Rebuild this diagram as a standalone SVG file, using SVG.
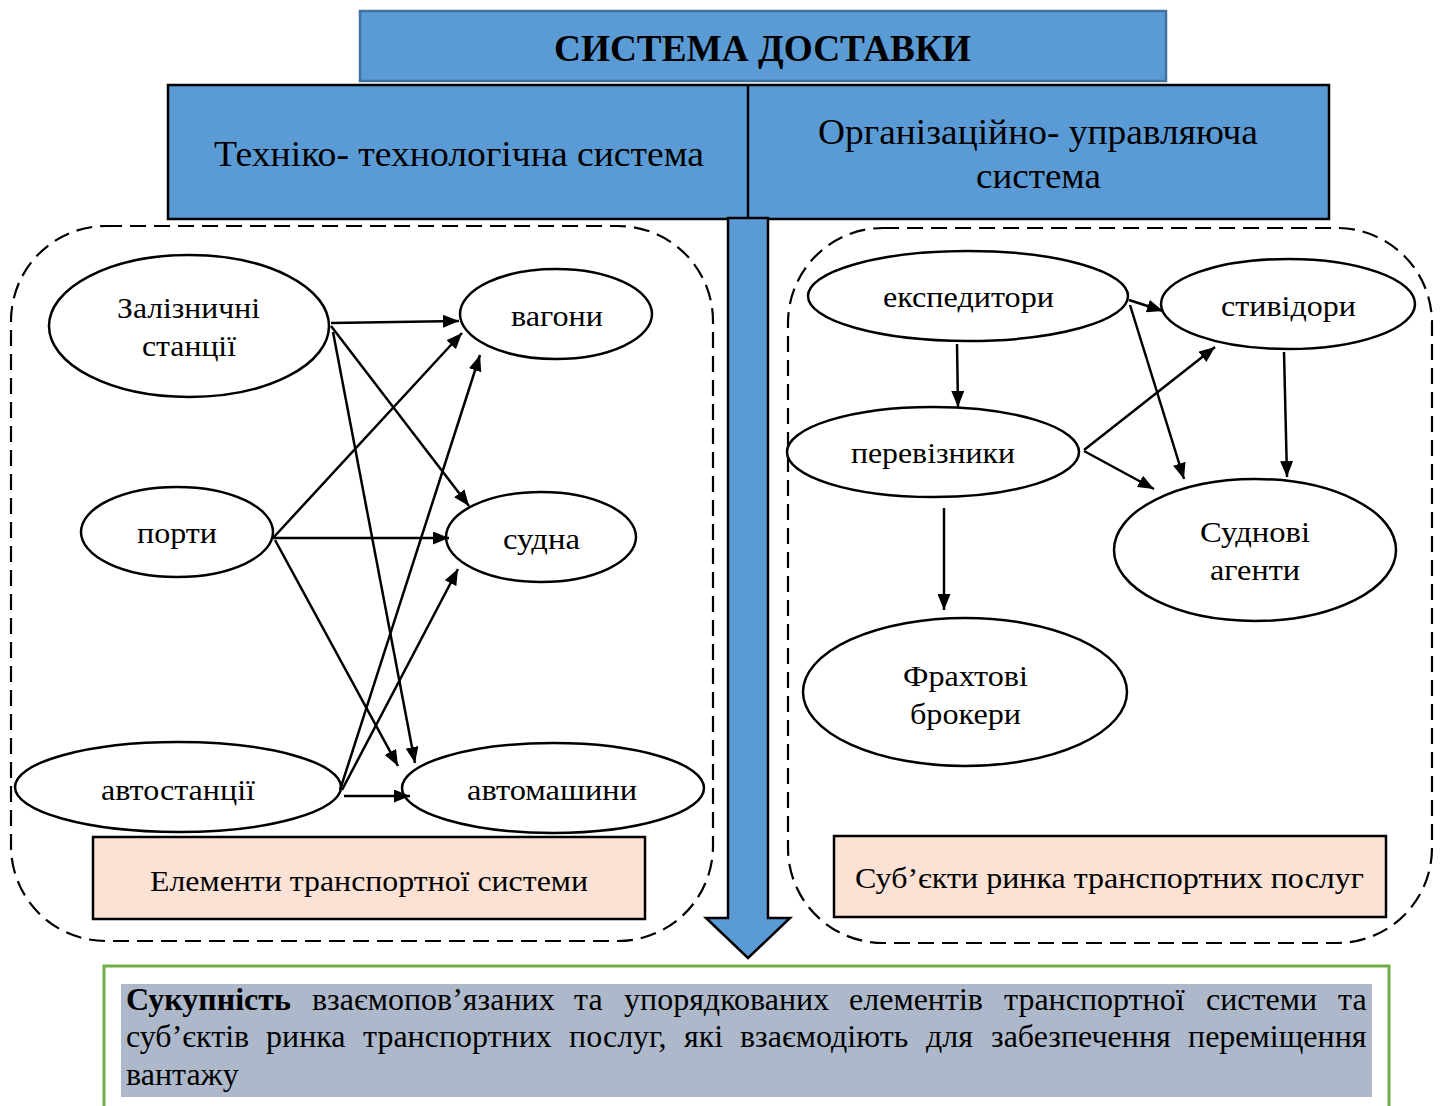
<svg xmlns="http://www.w3.org/2000/svg" width="1445" height="1106" viewBox="0 0 1445 1106">
<defs>
<marker id="ah" markerUnits="userSpaceOnUse" markerWidth="17" markerHeight="13" refX="16" refY="6.5" orient="auto">
<path d="M0,0 L16,6.5 L0,13 z" fill="#000"/>
</marker>
<style>
text{font-family:"Liberation Serif","Times New Roman",serif;fill:#000;}
.t{font-size:30px;text-anchor:middle;}
.h{font-size:36px;text-anchor:middle;}
.b{font-size:32px;}
.el{fill:#fff;stroke:#000;stroke-width:2.5;}
.dash{fill:none;stroke:#000;stroke-width:2.2;stroke-dasharray:16 8;}
.lab{fill:#FBE2D5;stroke:#000;stroke-width:2.5;}
.c line{stroke:#000;stroke-width:2.5;marker-end:url(#ah);}
</style>
</defs>
<rect width="1445" height="1106" fill="#fff"/>

<g id="title">
<rect x="360" y="11" width="806" height="70" fill="#5B9BD5" stroke="#41719C" stroke-width="2.5"/>
<text x="762.5" y="61" style="font-size:38px;font-weight:bold;text-anchor:middle" textLength="417" lengthAdjust="spacingAndGlyphs">СИСТЕМА ДОСТАВКИ</text>
</g>

<g id="subsystems">
<rect x="168" y="85" width="1161" height="134" fill="#5B9BD5" stroke="#000" stroke-width="2.5"/>
<line x1="748" y1="85" x2="748" y2="219" stroke="#000" stroke-width="2.5"/>
</g>
<g id="tech">
<text class="h" x="459" y="166" textLength="490" lengthAdjust="spacingAndGlyphs">Техніко- технологічна система</text>
</g>
<g id="org">
<text class="h" x="1038" y="144" textLength="440" lengthAdjust="spacingAndGlyphs">Організаційно- управляюча</text>
<text class="h" x="1038.5" y="188" textLength="125" lengthAdjust="spacingAndGlyphs">система</text>
</g>

<g id="left-group">
<rect class="dash" x="11" y="226" width="702" height="715" rx="95" ry="95"/>
</g>
<g id="right-group">
<rect class="dash" x="788" y="228" width="644" height="715" rx="95" ry="95"/>
</g>

<g id="big-arrow">
<polygon points="728,218 768,218 768,918 790,918 748,958 706,918 728,918" fill="#5B9BD5" stroke="#000" stroke-width="2.5" stroke-linejoin="miter"/>
</g>

<g id="n-zal"><ellipse class="el" cx="189" cy="326" rx="140" ry="71"/>
<text class="t" x="188.5" y="318" textLength="143" lengthAdjust="spacingAndGlyphs">Залізничні</text>
<text class="t" x="189" y="356" textLength="94" lengthAdjust="spacingAndGlyphs">станції</text></g>
<g id="n-vag"><ellipse class="el" cx="556" cy="314" rx="96" ry="45"/>
<text class="t" x="557" y="326" textLength="92" lengthAdjust="spacingAndGlyphs">вагони</text></g>
<g id="n-port"><ellipse class="el" cx="177" cy="532" rx="96" ry="45"/>
<text class="t" x="177" y="543" textLength="80" lengthAdjust="spacingAndGlyphs">порти</text></g>
<g id="n-sud"><ellipse class="el" cx="541" cy="537" rx="95" ry="45"/>
<text class="t" x="541.5" y="549" textLength="77" lengthAdjust="spacingAndGlyphs">судна</text></g>
<g id="n-avst"><ellipse class="el" cx="178" cy="787" rx="163" ry="45"/>
<text class="t" x="178" y="800" textLength="154" lengthAdjust="spacingAndGlyphs">автостанції</text></g>
<g id="n-avm"><ellipse class="el" cx="553" cy="788" rx="151" ry="45"/>
<text class="t" x="552" y="800" textLength="170" lengthAdjust="spacingAndGlyphs">автомашини</text></g>
<g id="lab-left"><rect class="lab" x="93" y="837" width="552" height="82"/>
<text class="t" x="369" y="891" textLength="438" lengthAdjust="spacingAndGlyphs">Елементи транспортної системи</text></g>

<g id="n-exp"><ellipse class="el" cx="968" cy="296" rx="160" ry="45"/>
<text class="t" x="968.5" y="307" textLength="171" lengthAdjust="spacingAndGlyphs">експедитори</text></g>
<g id="n-stv"><ellipse class="el" cx="1288" cy="304" rx="127" ry="45"/>
<text class="t" x="1288.5" y="316" textLength="135" lengthAdjust="spacingAndGlyphs">стивідори</text></g>
<g id="n-per"><ellipse class="el" cx="933" cy="452" rx="146" ry="45"/>
<text class="t" x="933" y="463" textLength="164" lengthAdjust="spacingAndGlyphs">перевізники</text></g>
<g id="n-agt"><ellipse class="el" cx="1255" cy="550" rx="141" ry="71"/>
<text class="t" x="1255" y="542" textLength="110" lengthAdjust="spacingAndGlyphs">Суднові</text>
<text class="t" x="1255" y="580" textLength="90" lengthAdjust="spacingAndGlyphs">агенти</text></g>
<g id="n-fr"><ellipse class="el" cx="965" cy="692" rx="162" ry="74"/>
<text class="t" x="965.5" y="686" textLength="125" lengthAdjust="spacingAndGlyphs">Фрахтові</text>
<text class="t" x="965.5" y="724" textLength="111" lengthAdjust="spacingAndGlyphs">брокери</text></g>
<g id="lab-right"><rect class="lab" x="834" y="836" width="552" height="81"/>
<text class="t" x="1109.5" y="888" textLength="509" lengthAdjust="spacingAndGlyphs">Суб’єкти ринка транспортних послуг</text></g>

<g id="connectors" class="c">
<line x1="331" y1="323" x2="459" y2="321"/>
<line x1="331" y1="326" x2="469" y2="506"/>
<line x1="333" y1="332" x2="415" y2="763"/>
<line x1="273" y1="538" x2="462" y2="333"/>
<line x1="273" y1="538" x2="449" y2="538"/>
<line x1="275" y1="540" x2="398" y2="766"/>
<line x1="340" y1="790" x2="480" y2="355"/>
<line x1="342" y1="790" x2="458" y2="569"/>
<line x1="344" y1="796" x2="410" y2="796"/>
<line x1="1129" y1="300" x2="1163" y2="311"/>
<line x1="1130" y1="305" x2="1184" y2="479"/>
<line x1="957" y1="344" x2="958" y2="407"/>
<line x1="1084" y1="450" x2="1215" y2="347"/>
<line x1="1084" y1="451" x2="1154" y2="489"/>
<line x1="1284" y1="352" x2="1287" y2="477"/>
<line x1="944" y1="508" x2="944" y2="610"/>
</g>

<g id="summary">
<rect x="104" y="966" width="1285" height="160" fill="#fff" stroke="#70AD47" stroke-width="3"/>
<rect x="121" y="984" width="1251" height="113" fill="#ADB9CA"/>
<text class="b" y="1010"><tspan x="126" font-weight="bold">Сукупність</tspan><tspan x="312">взаємопов’язаних</tspan><tspan x="574">та</tspan><tspan x="624">упорядкованих</tspan><tspan x="849">елементів</tspan><tspan x="1004">транспортної</tspan><tspan x="1206">системи</tspan><tspan x="1338">та</tspan></text>
<text class="b" y="1047"><tspan x="126">суб’єктів</tspan><tspan x="266">ринка</tspan><tspan x="363">транспортних</tspan><tspan x="569">послуг,</tspan><tspan x="684">які</tspan><tspan x="740">взаємодіють</tspan><tspan x="926">для</tspan><tspan x="991">забезпечення</tspan><tspan x="1188">переміщення</tspan></text>
<text class="b" x="126" y="1085">вантажу</text>
</g>
</svg>
